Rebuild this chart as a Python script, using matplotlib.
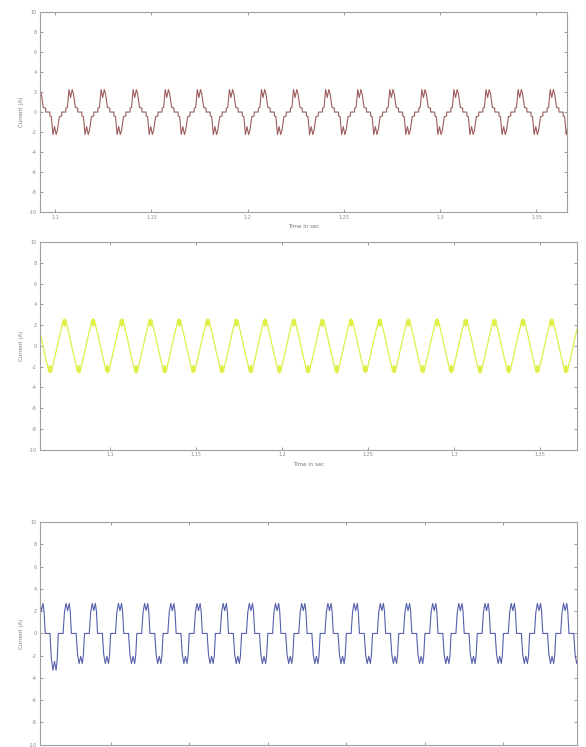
import numpy as np
import matplotlib
matplotlib.use("Agg")
import matplotlib.pyplot as plt

# ── Data ─────────────────────────────────────────────────────────────────────
FREQ = 60.0  # Hz, one period ~ 1/3 of a 0.05 s tick interval

# one half period (phase 0..0.5) of each waveform, negative half is mirrored
brown_phase = [0.00, 0.03, 0.035, 0.08, 0.13, 0.18, 0.23, 0.27, 0.33, 0.40, 0.405, 0.50]
brown_value = [0.00, 0.00, 0.40, 0.45, 2.25, 1.45, 2.25, 1.80, 0.45, 0.40, 0.00, 0.00]

yellow_phase = [0.00, 0.08, 0.16, 0.20, 0.23, 0.25, 0.27, 0.30, 0.34, 0.42, 0.50]
yellow_value = [0.00, 1.00, 1.90, 2.50, 1.90, 2.60, 1.90, 2.50, 1.90, 1.00, 0.00]

blue_phase = [0.00, 0.04, 0.045, 0.09, 0.15, 0.21, 0.27, 0.31, 0.35, 0.355, 0.42, 0.50]
blue_value = [0.00, 0.00, 0.30, 1.90, 2.70, 2.05, 2.70, 2.00, 0.30, 0.00, 0.00, 0.00]

brown_start, brown_cycles = 1.0883, 17
yellow_start, yellow_cycles = 1.0525, 20
blue_start, blue_cycles = 1.0525, 22
blue_first_trough = -3.3  # deeper first negative peak (start-up)

y_ticks = [10, 8, 6, 4, 2, 0, -2, -4, -6, -8, -10]
x_ticks = [1.1, 1.15, 1.2, 1.25, 1.3, 1.35]
x_ticklabels = ["1.1", "1.15", "1.2", "1.25", "1.3", "1.35"]


def build_wave(phase, value, start, cycles):
    half_p = np.array(phase)
    half_v = np.array(value)
    one_p = np.concatenate([half_p, half_p[1:] + 0.5])
    one_v = np.concatenate([half_v, -half_v[1:]])
    t, v = [], []
    for k in range(cycles):
        t.append(start + (k + one_p[:-1]) / FREQ)
        v.append(one_v[:-1])
    return np.concatenate(t), np.concatenate(v)


def style_axes(ax, xlim):
    ax.set_xlim(*xlim)
    ax.set_ylim(-10, 10)
    ax.set_yticks(y_ticks)
    ax.set_yticklabels([str(y) for y in y_ticks])
    ax.set_xticks(x_ticks)
    ax.set_xticklabels(x_ticklabels)
    ax.tick_params(direction="in", length=2.5, width=0.6, labelsize=3.5,
                   colors="#8a8a8a", top=True, right=True, pad=2)
    for sp in ax.spines.values():
        sp.set_color("#a0a0a0")
        sp.set_linewidth(0.8)
    ax.set_ylabel("Current (A)", fontsize=4, color="#777777", labelpad=4)


fig = plt.figure(figsize=(5.86, 7.47), dpi=100)

# Panel 1 - brown
ax1 = fig.add_axes([0.068, 0.716, 0.900, 0.268])
t, v = build_wave(brown_phase, brown_value, brown_start, brown_cycles)
ax1.plot(t, v, color="#9c5c5c", lw=0.8)
style_axes(ax1, (1.092, 1.366))
ax1.set_xlabel("Time in sec", fontsize=4, color="#777777", labelpad=3)

# Panel 2 - yellow
ax2 = fig.add_axes([0.068, 0.398, 0.917, 0.278])
t, v = build_wave(yellow_phase, yellow_value, yellow_start, yellow_cycles)
ax2.plot(t, v, color="#e0ee48", lw=0.9)
style_axes(ax2, (1.059, 1.3715))
ax2.set_xlabel("Time in sec", fontsize=4, color="#777777", labelpad=3)

# Panel 3 - blue (x labels fall below the figure edge in the reference)
ax3 = fig.add_axes([0.068, 0.003, 0.917, 0.298])
t, v = build_wave(blue_phase, blue_value, blue_start, blue_cycles)
first = (t < blue_start + 1 / FREQ) & (v < 0)
v[first] = v[first] * (blue_first_trough / -2.7)
ax3.plot(t, v, color="#5560aa", lw=0.8)
style_axes(ax3, (1.055, 1.397))
ax3.tick_params(labelbottom=False)

fig.savefig("out.png", dpi=100)
